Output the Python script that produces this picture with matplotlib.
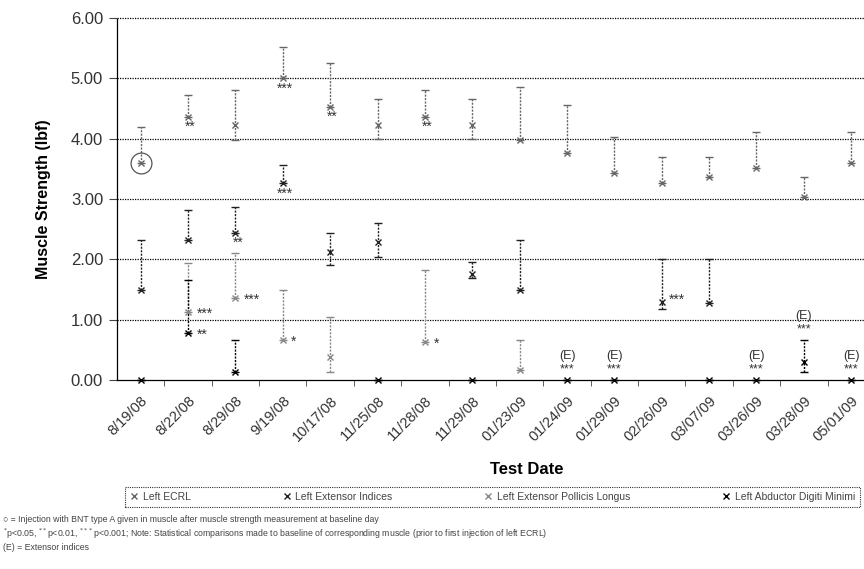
import numpy as np
import matplotlib.pyplot as plt
from matplotlib.lines import Line2D

plt.rcParams['font.family'] = ['Liberation Sans', 'DejaVu Sans']

nan = np.nan
dates = ['8/19/08', '8/22/08', '8/29/08', '9/19/08', '10/17/08', '11/25/08',
         '11/28/08', '11/29/08', '01/23/09', '01/24/09', '01/29/09', '02/26/09',
         '03/07/09', '03/26/09', '03/28/09', '05/01/09']
series_names = ['Left ECRL', 'Left Extensor Indices',
                'Left Extensor Pollicis Longus', 'Left Abductor Digiti Minimi']

# mean, lower end of bar, upper end of bar (lbf)
ecrl_mean = [3.60, 4.36, 4.23, 5.00, 4.53, 4.23, 4.36, 4.23, 3.98, 3.76, 3.43, 3.26, 3.37, 3.51, 3.04, 3.60]
ecrl_lo   = [3.60, 4.36, 3.98, 5.00, 4.53, 4.00, 4.36, 4.00, 3.98, 3.76, 3.43, 3.26, 3.37, 3.51, 3.04, 3.60]
ecrl_hi   = [4.20, 4.72, 4.81, 5.52, 5.25, 4.66, 4.81, 4.66, 4.86, 4.56, 4.03, 3.70, 3.70, 4.11, 3.37, 4.11]
ecrl_sig  = ['', '**', '', '***', '**', '', '**', '', '', '', '', '', '', '', '', '']

ei_mean = [1.50, 2.32, 2.44, 3.26, 2.12, 2.29, nan, 1.75, 1.49, nan, nan, 1.30, 1.27, nan, nan, nan]
ei_lo   = [1.50, 2.32, 2.44, 3.26, 1.91, 2.04, nan, 1.69, 1.49, nan, nan, 1.17, 1.27, nan, nan, nan]
ei_hi   = [2.32, 2.82, 2.87, 3.56, 2.44, 2.60, nan, 1.96, 2.32, nan, nan, 2.00, 2.00, nan, nan, nan]
ei_sig  = ['', '', '**', '***', '', '', '', '', '', '', '', ' ***', '', '', '', '']

epl_mean = [nan, 1.12, 1.36, 0.66, 0.38, nan, 0.63, nan, 0.16, nan, nan, nan, nan, nan, nan, nan]
epl_lo   = [nan, 1.12, 1.36, 0.66, 0.13, nan, 0.63, nan, 0.16, nan, nan, nan, nan, nan, nan, nan]
epl_hi   = [nan, 1.94, 2.10, 1.49, 1.05, nan, 1.82, nan, 0.66, nan, nan, nan, nan, nan, nan, nan]
epl_sig  = ['', '***', '***', '*', '', '', '*', '', '', '', '', '', '', '', '', '']

adm_mean = [0.00, 0.78, 0.13, nan, nan, 0.00, nan, 0.00, nan, 0.00, 0.00, nan, 0.00, 0.00, 0.30, 0.00]
adm_lo   = [0.00, 0.78, 0.13, nan, nan, 0.00, nan, 0.00, nan, 0.00, 0.00, nan, 0.00, 0.00, 0.13, 0.00]
adm_hi   = [0.00, 1.66, 0.66, nan, nan, 0.00, nan, 0.00, nan, 0.00, 0.00, nan, 0.00, 0.00, 0.66, 0.00]
adm_sig  = ['', '**', '', '', '', '', '', '', '', '(E)\n***', '(E)\n***', '', '', '(E)\n***', '(E)\n***', '(E)\n***']

series = [
    (ecrl_mean, ecrl_lo, ecrl_hi, ecrl_sig, '#666666', 'x'),
    (ei_mean, ei_lo, ei_hi, ei_sig, '#222222', 'x'),
    (epl_mean, epl_lo, epl_hi, epl_sig, '#888888', 'x'),
    (adm_mean, adm_lo, adm_hi, adm_sig, '#000000', 'x'),
]

fig = plt.figure(figsize=(8.64, 5.69), dpi=100)
ax = fig.add_axes([117 / 864, 1 - 380 / 569, 1 - 117 / 864, (380 - 18) / 569])
x = np.arange(len(dates))

handles = []
for (name, (m, lo, hi, sig, col, mk)) in zip(series_names, series):
    m = np.array(m, float)
    lo = np.array(lo, float)
    hi = np.array(hi, float)
    yerr = [m - lo, hi - m]
    eb = ax.errorbar(x, m, yerr=yerr, fmt=mk, ms=4, mew=1.0, color=col,
                     ecolor=col, elinewidth=1.0, capsize=3, capthick=1.0,
                     clip_on=False, zorder=3)
    for line in eb[2]:
        line.set_linestyle((0, (1.5, 1)))
    handles.append(Line2D([], [], ls='none', marker=mk, ms=4, mew=1.0,
                          color=col, label=name))
    for i, s in enumerate(sig):
        if not s:
            continue
        if '(E)' in s:
            ax.text(x[i], hi[i] + 0.08, s, ha='center', va='bottom',
                    fontsize=9, color='#333333', linespacing=1.1)
        elif s.startswith(' '):
            ax.text(x[i] + 0.15, m[i] + 0.03, s.strip(), ha='left', va='center',
                    fontsize=10, color='#333333')
        elif col in ('#666666', '#222222'):
            ax.text(x[i] + 0.05, m[i] - 0.05, s, ha='center', va='top',
                    fontsize=10, color='#333333')
        else:
            ax.text(x[i] + 0.18, m[i] - 0.03, s, ha='left', va='center',
                    fontsize=10, color='#333333')

# injection marker around baseline ECRL point
ax.plot([0], [ecrl_mean[0]], 'o', ms=15, mfc='none', mec='#555555', mew=0.9,
        zorder=4)

ax.set_xlim(-0.5, 15.27)
ax.set_ylim(0, 6)
yt = np.arange(0, 7)
ax.set_yticks(yt)
ax.set_yticklabels(['%.2f' % v for v in yt], fontsize=12, color='#333333')
for v in yt[1:]:
    ax.axhline(v, color='black', lw=0.9, ls=(0, (1, 1)), clip_on=False, zorder=1)

ax.set_xticks(x)
ax.set_xticklabels(dates, rotation=45, ha='right', va='top',
                   rotation_mode='anchor', fontsize=10.5, color='#333333')
ax.set_xticks(x[:-1] + 0.5, minor=True)
ax.tick_params(axis='x', which='major', length=0, pad=10)
ax.tick_params(axis='x', which='minor', length=4, color='#444444')
ax.tick_params(axis='y', length=6, color='#444444', pad=4)

for sp in ['top', 'right']:
    ax.spines[sp].set_visible(False)
for sp in ['left', 'bottom']:
    ax.spines[sp].set_linestyle((0, (1, 1)))
    ax.spines[sp].set_linewidth(0.9)

ax.set_ylabel('Muscle Strength (lbf)', fontsize=11.5, fontweight='bold',
              labelpad=14)
ax.text(0.61, 1 - 470 / 569, 'Test Date', transform=fig.transFigure,
        fontsize=12, fontweight='bold', ha='center', va='center')

leg = fig.legend(handles=handles, loc='lower left',
                 bbox_to_anchor=(125 / 864, 1 - 507 / 569, 735 / 864, 24 / 569),
                 ncol=4, mode='expand', fontsize=7.5, frameon=True, fancybox=False,
                 borderaxespad=0, handlelength=0.8, handletextpad=0.4,
                 borderpad=0.5)
frame = leg.get_frame()
frame.set_edgecolor('black')
frame.set_linestyle((0, (1, 1)))
frame.set_linewidth(0.8)
for t in leg.get_texts():
    t.set_color('#444444')

notes = [
    '\u25cb = Injection with BNT type A given in muscle after muscle strength measurement at baseline day',
    '$^{*}$p<0.05, $^{**}$p<0.01, $^{***}$p<0.001; Note: Statistical comparisons made to baseline of corresponding muscle (prior to first injection of left ECRL)',
    '(E) = Extensor indices',
]
for k, n in enumerate(notes):
    fig.text(0.003, 1 - (520 + 14 * k) / 569, n, fontsize=6.3, color='#444444',
             va='center', ha='left')

fig.savefig('out.png', dpi=100)
